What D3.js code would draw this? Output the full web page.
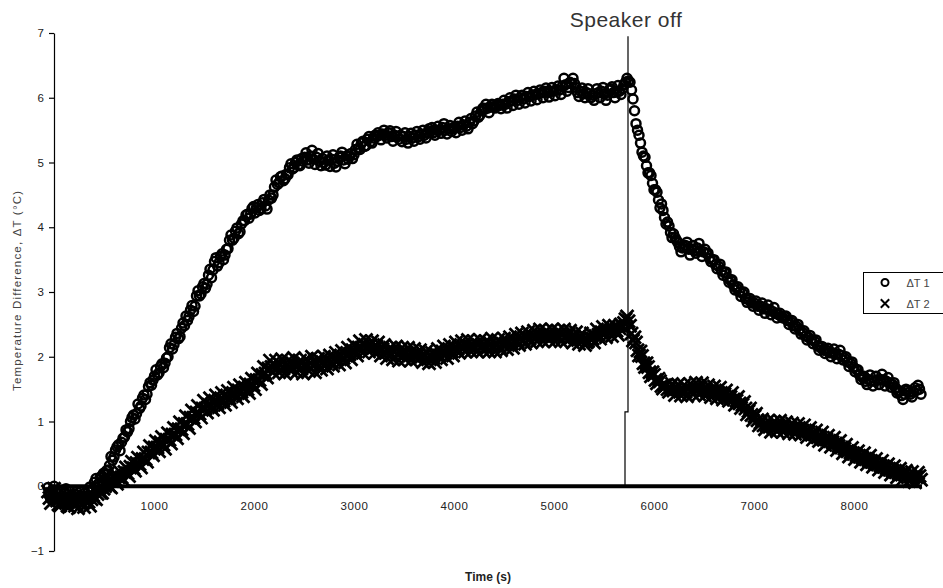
<!DOCTYPE html>
<html>
<head>
<meta charset="utf-8">
<script src="https://cdn.jsdelivr.net/npm/d3@7"></script>
<style>
  html, body { margin: 0; padding: 0; background: #fff; }
  svg { display: block; font-family: "Liberation Sans", Arial, sans-serif; }
</style>
</head>
<body>
<svg id="chart" width="943" height="588"></svg>
<script>
// Sampling: one reading every 15 s, first reading at t = -60 s
const T_START = -60;
const T_STEP = 15;

// Temperature difference of sensor pair 1 (°C)
const dT1 = [
  -0.02,-0.14,-0.2,-0.06,0.0,-0.18,-0.25,-0.12,-0.08,-0.2,-0.26,-0.1,-0.04,-0.22,-0.28,-0.16,-0.2,-0.24,-0.12,-0.08,
  -0.18,-0.15,-0.24,-0.2,-0.11,-0.16,-0.28,-0.08,-0.01,-0.06,-0.04,0.06,0.12,0.02,0.05,0.14,0.16,0.2,0.18,0.24,
  0.25,0.32,0.46,0.4,0.45,0.56,0.61,0.64,0.55,0.68,0.74,0.76,0.87,0.84,0.89,1.0,1.06,1.1,1.04,1.12,
  1.27,1.2,1.24,1.36,1.41,1.34,1.42,1.54,1.6,1.56,1.64,1.7,1.8,1.72,1.75,1.85,1.89,1.83,1.9,1.98,
  2.0,2.14,2.2,2.12,2.19,2.3,2.36,2.28,2.31,2.44,2.52,2.48,2.63,2.56,2.62,2.72,2.79,2.7,2.78,2.94,
  3.02,2.94,2.97,3.08,3.13,3.06,3.12,3.26,3.35,3.22,3.34,3.47,3.53,3.4,3.45,3.55,3.59,3.5,3.57,3.66,
  3.67,3.8,3.88,3.8,3.83,3.94,3.99,3.9,3.93,4.05,4.1,4.1,4.19,4.2,4.14,4.2,4.29,4.32,4.22,4.3,
  4.35,4.26,4.29,4.38,4.43,4.33,4.28,4.42,4.5,4.45,4.5,4.62,4.73,4.66,4.69,4.78,4.79,4.72,4.75,4.82,
  4.81,4.92,4.98,4.9,4.92,5.0,5.04,4.96,4.95,5.06,5.02,5.08,5.15,5.04,4.99,5.1,5.19,5.05,4.97,5.08,
  5.14,5.02,4.95,5.06,5.0,4.96,5.1,5.04,4.94,5.05,5.12,4.99,4.93,5.02,5.08,5.1,5.16,5.04,4.98,5.1,
  5.05,5.1,5.14,5.06,5.12,5.2,5.28,5.22,5.2,5.3,5.33,5.25,5.26,5.36,5.4,5.32,5.3,5.38,5.42,5.4,
  5.46,5.42,5.35,5.44,5.5,5.42,5.38,5.46,5.49,5.4,5.33,5.42,5.48,5.4,5.36,5.42,5.32,5.4,5.46,5.36,
  5.3,5.4,5.45,5.38,5.33,5.42,5.48,5.4,5.36,5.44,5.5,5.42,5.38,5.46,5.52,5.48,5.54,5.46,5.42,5.5,
  5.56,5.5,5.45,5.54,5.6,5.5,5.44,5.52,5.57,5.48,5.52,5.55,5.46,5.56,5.62,5.54,5.5,5.58,5.64,5.56,
  5.52,5.62,5.68,5.6,5.64,5.72,5.78,5.7,5.73,5.8,5.84,5.82,5.9,5.84,5.77,5.86,5.9,5.86,5.84,5.88,
  5.91,5.88,5.83,5.9,5.96,5.9,5.84,5.94,6.0,5.95,5.88,5.98,6.04,5.96,5.9,6.0,6.04,5.98,5.92,6.02,
  6.08,6.02,5.95,6.04,6.1,6.05,5.97,6.06,6.12,6.08,6.0,6.1,6.15,6.08,6.01,6.1,6.16,6.1,6.03,6.12,
  6.18,6.12,6.05,6.18,6.3,6.2,6.1,6.16,6.24,6.22,6.3,6.22,6.16,6.08,6.02,6.1,6.15,6.06,6.0,6.08,
  6.14,6.06,6.0,6.04,5.96,6.06,6.14,6.08,6.0,6.1,6.16,6.06,5.96,6.04,6.12,6.14,6.17,6.08,6.0,6.1,
  6.19,6.1,6.05,6.14,6.2,6.24,6.3,6.26,6.24,6.12,5.98,5.8,5.6,5.5,5.42,5.3,5.16,5.1,5.08,4.95,
  4.84,4.84,4.8,4.68,4.58,4.58,4.54,4.42,4.3,4.36,4.26,4.15,4.05,4.08,4.02,3.92,3.84,3.9,3.84,3.8,
  3.76,3.7,3.62,3.68,3.7,3.72,3.77,3.66,3.57,3.66,3.72,3.64,3.6,3.68,3.75,3.64,3.55,3.62,3.66,3.6,
  3.6,3.52,3.47,3.5,3.5,3.42,3.36,3.4,3.43,3.33,3.26,3.3,3.31,3.22,3.15,3.18,3.19,3.1,3.03,3.06,
  3.08,3.0,2.93,2.98,3.0,2.9,2.84,2.88,2.9,2.83,2.78,2.83,2.86,2.78,2.72,2.78,2.83,2.74,2.67,2.74,
  2.8,2.72,2.65,2.7,2.76,2.67,2.6,2.65,2.67,2.62,2.6,2.62,2.63,2.56,2.5,2.54,2.56,2.48,2.43,2.47,
  2.5,2.42,2.35,2.38,2.4,2.32,2.26,2.3,2.33,2.26,2.2,2.24,2.26,2.17,2.1,2.14,2.16,2.1,2.05,2.1,
  2.13,2.06,2.0,2.06,2.12,2.04,1.97,2.04,2.1,2.02,1.95,1.98,2.0,1.92,1.85,1.9,1.92,1.84,1.77,1.8,
  1.8,1.72,1.65,1.68,1.7,1.62,1.57,1.65,1.72,1.63,1.55,1.62,1.7,1.64,1.57,1.65,1.73,1.64,1.55,1.62,
  1.68,1.6,1.53,1.57,1.6,1.52,1.44,1.46,1.47,1.4,1.34,1.42,1.5,1.48,1.45,1.42,1.38,1.46,1.52,1.48,
  1.56,1.5,1.42
];

// Temperature difference of sensor pair 2 (°C)
const dT2 = [
  -0.08,-0.18,-0.26,-0.12,-0.04,-0.16,-0.22,-0.28,-0.3,-0.18,-0.1,-0.2,-0.26,-0.3,-0.32,-0.2,-0.12,-0.24,-0.3,-0.28,
  -0.34,-0.24,-0.18,-0.26,-0.32,-0.22,-0.16,-0.24,-0.3,-0.2,-0.14,-0.18,-0.2,-0.12,-0.06,-0.1,-0.1,-0.04,0.0,0.06,
  0.08,0.0,-0.02,0.08,0.16,0.1,0.04,0.14,0.22,0.14,0.1,0.22,0.29,0.2,0.16,0.3,0.38,0.28,0.24,0.36,
  0.44,0.34,0.29,0.42,0.52,0.42,0.38,0.52,0.62,0.52,0.48,0.6,0.7,0.6,0.54,0.68,0.76,0.64,0.58,0.72,
  0.82,0.72,0.66,0.8,0.9,0.8,0.74,0.88,0.99,0.88,0.82,0.96,1.08,0.96,0.9,1.06,1.17,1.06,1.0,1.14,
  1.24,1.12,1.06,1.2,1.32,1.2,1.14,1.26,1.36,1.24,1.18,1.3,1.4,1.28,1.22,1.34,1.44,1.32,1.26,1.38,
  1.47,1.36,1.3,1.42,1.52,1.42,1.36,1.48,1.56,1.46,1.39,1.52,1.6,1.5,1.44,1.57,1.66,1.56,1.5,1.64,
  1.74,1.64,1.58,1.72,1.84,1.74,1.68,1.82,1.94,1.84,1.76,1.86,1.94,1.84,1.76,1.88,1.96,1.82,1.74,1.86,
  1.94,1.84,1.78,1.9,1.98,1.86,1.76,1.86,1.94,1.82,1.74,1.88,1.96,1.86,1.78,1.9,2.0,1.86,1.76,1.9,
  1.97,1.86,1.8,1.92,2.0,1.9,1.82,1.94,2.02,1.92,1.86,1.98,2.06,1.96,1.88,2.0,2.09,1.98,1.91,2.04,
  2.14,2.04,1.96,2.1,2.18,2.08,2.02,2.14,2.24,2.14,2.06,2.18,2.26,2.16,2.08,2.18,2.24,2.14,2.06,2.16,
  2.22,2.1,2.02,2.12,2.18,2.06,1.98,2.08,2.14,2.04,1.96,2.08,2.16,2.04,1.94,2.06,2.14,2.04,1.96,2.06,
  2.14,2.02,1.94,2.04,2.12,2.04,1.96,2.04,2.1,2.0,1.92,2.02,2.08,1.98,1.9,2.0,2.06,1.98,1.92,2.04,
  2.12,2.02,1.96,2.08,2.16,2.06,1.98,2.1,2.18,2.08,2.02,2.14,2.22,2.12,2.06,2.16,2.24,2.14,2.08,2.18,
  2.26,2.16,2.08,2.16,2.24,2.14,2.08,2.18,2.26,2.16,2.1,2.18,2.24,2.14,2.08,2.2,2.28,2.16,2.08,2.18,
  2.26,2.16,2.1,2.2,2.28,2.2,2.12,2.22,2.3,2.2,2.14,2.26,2.34,2.24,2.18,2.28,2.36,2.26,2.2,2.3,
  2.38,2.28,2.22,2.32,2.4,2.3,2.24,2.34,2.42,2.32,2.24,2.32,2.4,2.32,2.26,2.34,2.42,2.32,2.24,2.32,
  2.4,2.3,2.24,2.34,2.42,2.32,2.26,2.34,2.4,2.3,2.22,2.3,2.38,2.28,2.2,2.28,2.36,2.26,2.18,2.22,
  2.24,2.3,2.36,2.28,2.22,2.32,2.42,2.34,2.28,2.38,2.46,2.38,2.3,2.4,2.48,2.4,2.32,2.42,2.48,2.4,
  2.34,2.44,2.5,2.46,2.52,2.58,2.62,2.55,2.48,2.36,2.25,2.3,2.22,2.1,2.02,2.08,2.01,1.9,1.84,1.9,
  1.84,1.76,1.7,1.76,1.72,1.64,1.59,1.66,1.62,1.55,1.51,1.56,1.56,1.5,1.46,1.52,1.58,1.48,1.41,1.5,
  1.57,1.48,1.4,1.48,1.56,1.46,1.39,1.5,1.58,1.48,1.42,1.52,1.6,1.5,1.42,1.52,1.59,1.48,1.4,1.48,
  1.56,1.46,1.38,1.46,1.54,1.44,1.36,1.44,1.52,1.42,1.34,1.42,1.48,1.38,1.32,1.38,1.44,1.34,1.26,1.32,
  1.38,1.28,1.21,1.26,1.3,1.2,1.11,1.16,1.2,1.1,1.02,1.08,1.12,1.02,0.94,0.98,1.03,0.94,0.88,0.94,
  1.01,0.92,0.84,0.92,1.0,0.92,0.85,0.94,1.01,0.92,0.84,0.92,0.99,0.9,0.82,0.9,0.97,0.88,0.81,0.88,
  0.96,0.88,0.8,0.86,0.94,0.84,0.76,0.84,0.9,0.8,0.72,0.8,0.86,0.76,0.7,0.76,0.83,0.72,0.64,0.72,
  0.78,0.7,0.61,0.68,0.75,0.66,0.56,0.62,0.7,0.6,0.51,0.58,0.64,0.54,0.46,0.52,0.59,0.5,0.42,0.48,
  0.54,0.46,0.38,0.44,0.51,0.42,0.34,0.4,0.47,0.38,0.3,0.36,0.42,0.34,0.26,0.32,0.39,0.3,0.22,0.28,
  0.34,0.26,0.18,0.24,0.31,0.22,0.14,0.2,0.27,0.19,0.11,0.18,0.24,0.16,0.08,0.15,0.22,0.14,0.06,0.14,
  0.21,0.16,0.1
];

const yTicks = [-1, 0, 1, 2, 3, 4, 5, 6, 7];
const xTicks = [1000, 2000, 3000, 4000, 5000, 6000, 7000, 8000];
const seriesNames = ["\u0394T 1", "\u0394T 2"];
const speakerOffTime = 5740;
const xAxisEnd = 8700;

const svg = d3.select("#chart");

const x = d3.scaleLinear().domain([0, xAxisEnd]).range([54, 924]);
const y = d3.scaleLinear().domain([-1, 7]).range([551, 33]);

const pts = (arr) => arr.map((v, i) => ({ t: T_START + i * T_STEP, v }));

const tickFont = 11.5;

// Vertical axis with outside ticks
const yAxis = svg.append("g")
  .attr("transform", `translate(${x(0)},0)`)
  .call(d3.axisLeft(y).tickValues(yTicks).tickSize(5).tickSizeOuter(0).tickPadding(5).tickFormat(d3.format("d")));
yAxis.select(".domain").attr("stroke", "#000").attr("stroke-width", 1.2);
yAxis.selectAll(".tick line").attr("stroke", "#000").attr("stroke-width", 1.2);
yAxis.selectAll("text").attr("fill", "#222").attr("font-size", tickFont);

// Horizontal axis line through zero
svg.append("line")
  .attr("x1", x(0)).attr("x2", x(8680))
  .attr("y1", y(0)).attr("y2", y(0))
  .attr("stroke", "#000").attr("stroke-width", 4);

// Time labels sit below the plot
const xAxis = svg.append("g")
  .attr("transform", `translate(0,${y(0) + 16})`)
  .call(d3.axisBottom(x).tickValues(xTicks).tickSize(0).tickPadding(0).tickFormat(d3.format("d")));
xAxis.select(".domain").remove();
xAxis.selectAll("text").attr("fill", "#222").attr("font-size", tickFont)
  .attr("letter-spacing", 0.6);

// Axis titles
svg.append("text")
  .attr("x", 488).attr("y", 581)
  .attr("text-anchor", "middle")
  .attr("font-size", 12).attr("font-weight", "bold").attr("fill", "#222")
  .text("Time (s)");

svg.append("text")
  .attr("transform", `translate(21,291) rotate(-90)`)
  .attr("text-anchor", "middle")
  .attr("font-size", 11.5).attr("fill", "#444")
  .attr("textLength", 200).attr("lengthAdjust", "spacing")
  .text("Temperature Difference, \u0394T (\u00B0C)");

// Speaker-off marker line and label
const xs = x(speakerOffTime);
svg.append("path")
  .attr("d", `M${xs},${y(6.95)}V${y(1.15)}H${xs - 3}V${y(0)}`)
  .attr("fill", "none").attr("stroke", "#000").attr("stroke-width", 1.2);
svg.append("text")
  .attr("x", xs - 2).attr("y", 27)
  .attr("text-anchor", "middle")
  .attr("font-size", 21).attr("letter-spacing", 0.5).attr("fill", "#333")
  .text("Speaker off");

// Series 1: open circles
const plot = svg.append("g");
plot.selectAll("circle.s1")
  .data(pts(dT1))
  .join("circle")
  .attr("class", "s1")
  .attr("cx", d => x(d.t)).attr("cy", d => y(d.v))
  .attr("r", 4.5)
  .attr("fill", "none").attr("stroke", "#000").attr("stroke-width", 2.5);

// Series 2: crosses
const cross = (s) => `M${-s},${-s}L${s},${s}M${-s},${s}L${s},${-s}`;
plot.selectAll("path.s2")
  .data(pts(dT2))
  .join("path")
  .attr("class", "s2")
  .attr("transform", d => `translate(${x(d.t)},${y(d.v)})`)
  .attr("d", cross(6.5))
  .attr("fill", "none").attr("stroke", "#000").attr("stroke-width", 2.8);

// Legend
const lg = svg.append("g").attr("transform", "translate(863.5,272.5)");
lg.append("rect").attr("width", 84).attr("height", 41)
  .attr("fill", "#fff").attr("stroke", "#000").attr("stroke-width", 1);
lg.append("circle").attr("cx", 21.5).attr("cy", 10).attr("r", 3.5)
  .attr("fill", "none").attr("stroke", "#000").attr("stroke-width", 2);
lg.append("path").attr("transform", "translate(21.5,31)").attr("d", cross(4.2))
  .attr("fill", "none").attr("stroke", "#000").attr("stroke-width", 2);
lg.selectAll("text.lbl")
  .data(seriesNames)
  .join("text")
  .attr("class", "lbl")
  .attr("x", 43).attr("y", (d, i) => 14 + i * 21)
  .attr("font-size", 11).attr("fill", "#444")
  .text(d => d);
</script>
</body>
</html>
